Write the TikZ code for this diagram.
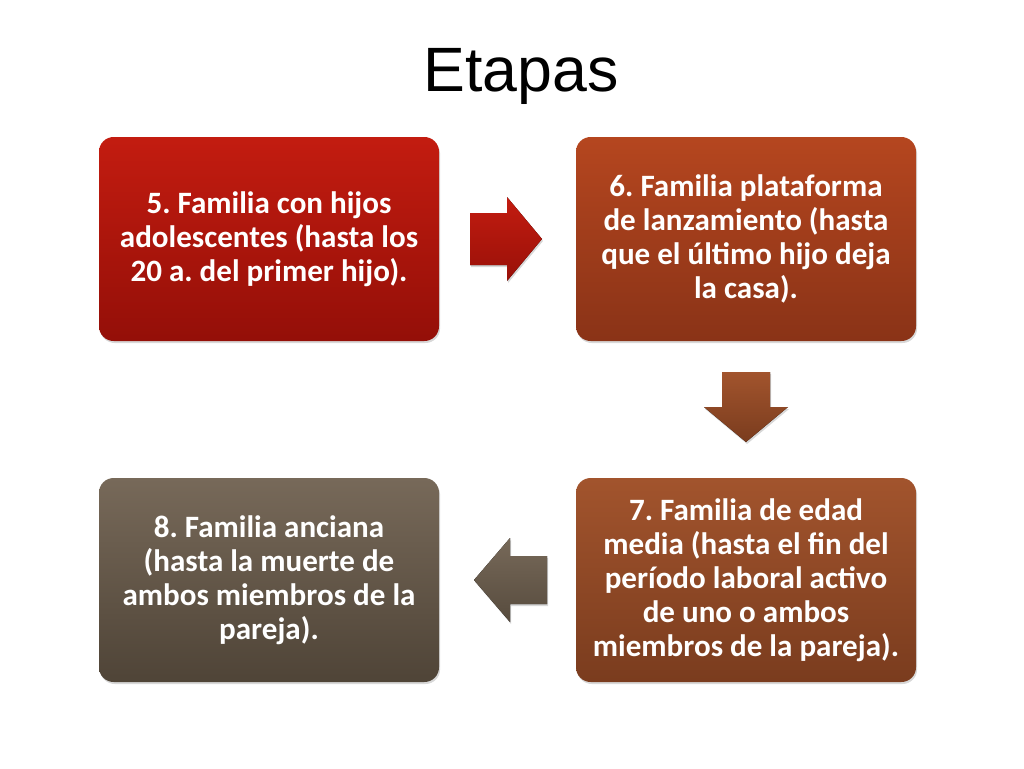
\documentclass[tikz,border=0pt]{standalone}
\usepackage{fontspec}
\setmainfont{Carlito}
\newfontfamily\titlefont{Liberation Sans}
\usetikzlibrary{shadows}
\frenchspacing

\definecolor{redtop}{HTML}{C31C10}
\definecolor{redbot}{HTML}{940F08}
\definecolor{rusttop}{HTML}{B5461F}
\definecolor{rustbot}{HTML}{8A3317}
\definecolor{browntop}{HTML}{A2542D}
\definecolor{brownbot}{HTML}{7A3C1E}
\definecolor{greytop}{HTML}{776959}
\definecolor{greybot}{HTML}{4F4437}

\begin{document}
\begin{tikzpicture}[x=0.75pt, y=-0.75pt,
  stage/.style={rounded corners=11pt, minimum width=255pt, minimum height=153pt,
    align=center, text=white, font=\fontsize{23.3}{25.6}\selectfont\bfseries,
    drop shadow={opacity=0.3, shadow xshift=0.8pt, shadow yshift=-1.5pt}},
  blockarrow/.style={drop shadow={opacity=0.3, shadow xshift=0.8pt, shadow yshift=-1.5pt}}]
\useasboundingbox [fill=white] (0,0) rectangle (1024,768);
\node [font=\titlefont\fontsize{47}{54}\selectfont] (title) at (521,76) {Etapas};

\node [stage, top color=redtop, bottom color=redbot] (s5) at (269,239)
  {5. Familia con hijos\\adolescentes (hasta los\\20 a. del primer hijo).};
\node [stage, top color=rusttop, bottom color=rustbot] (s6) at (746,239)
  {6. Familia plataforma\\de lanzamiento (hasta\\que el último hijo deja\\la casa).};
\node [stage, top color=browntop, bottom color=brownbot] (s7) at (746,580)
  {7. Familia de edad\\media (hasta el fin del\\período laboral activo\\de uno o ambos\\miembros de la pareja).};
\node [stage, top color=greytop, bottom color=greybot] (s8) at (269,580)
  {8. Familia anciana\\(hasta la muerte de\\ambos miembros de la\\pareja).};

% flechas
\fill [blockarrow, top color=redtop, bottom color=redbot!90!redtop]
  (470,213) -- (507,213) -- (507,197) -- (542,239) -- (507,281) -- (507,265) -- (470,265) -- cycle;
\fill [blockarrow, top color=browntop, bottom color=brownbot]
  (722,372) -- (770,372) -- (770,407) -- (788,407) -- (746,442) -- (704,407) -- (722,407) -- cycle;
\fill [blockarrow, top color=greytop, bottom color=greybot!80!greytop]
  (547,556) -- (510,556) -- (510,538) -- (474,580) -- (510,622) -- (510,604) -- (547,604) -- cycle;
\end{tikzpicture}
\end{document}
